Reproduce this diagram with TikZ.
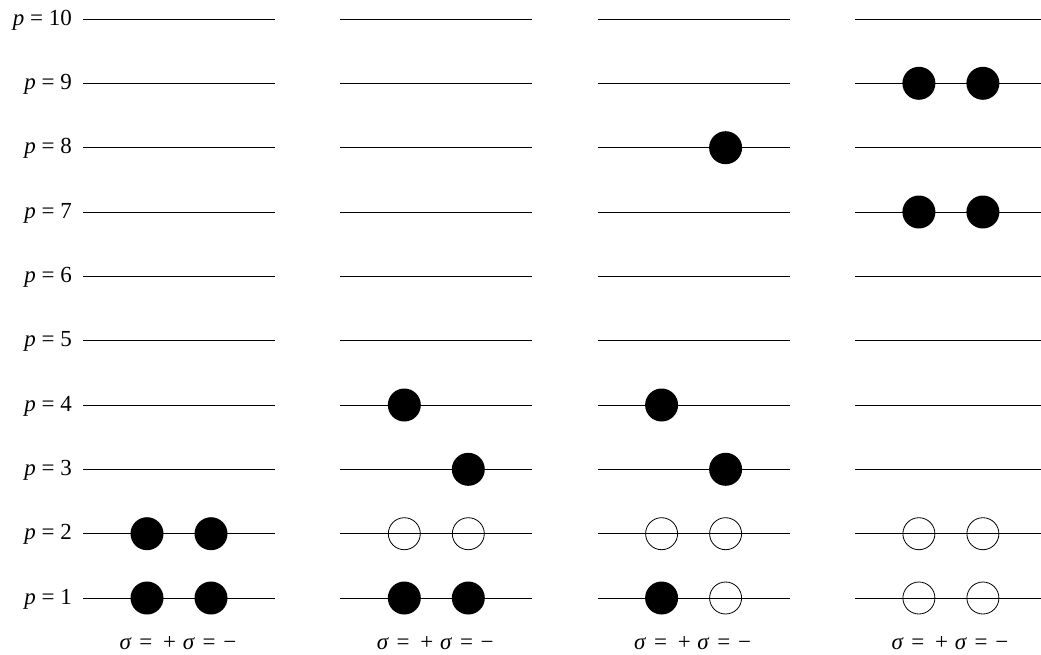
\documentclass[tikz,border=0pt]{standalone}
\usepackage{fontspec}
\setmainfont{Liberation Serif}
\begin{document}
\begin{tikzpicture}[x=1pt,y=-1pt,
  level/.style={line width=0.8pt},
  full/.style={circle,fill=black,minimum size=33pt,inner sep=0pt},
  empty/.style={circle,draw=black,line width=0.8pt,minimum size=32pt,inner sep=0pt},
  plab/.style={anchor=base east,font=\fontsize{23}{26}\selectfont,inner sep=0pt},
  slab/.style={anchor=base,font=\fontsize{23}{26}\selectfont,inner sep=0pt}]
\useasboundingbox (0,0) rectangle (1041,654);
% levels
\foreach \p in {1,...,10}{
  \pgfmathsetmacro{\yy}{598-(\p-1)*64.33}
  \node[plab] (lab\p) at (72,\yy+6) {\textit{p} = \p};
  \foreach \k in {0,1,2,3}{
    \coordinate (a\k-\p) at (83+\k*257.3,\yy);
    \coordinate (b\k-\p) at (275+\k*257.3,\yy);
    \draw[level] (a\k-\p) -- (b\k-\p);
  }
}
% bottom labels
\foreach \k in {0,1,2,3}{
  \node[slab] (sig\k) at (178+\k*257.3,649) {\textit{σ}\kern2pt{} = \kern5pt+ \kern1pt\textit{σ}\kern2pt{} = \kern2pt−};
}
% panel 1
\node[full] (c0-1l) at (147,598) {};
\node[full] (c0-1r) at (211,598) {};
\node[full] (c0-2l) at (147,533.7) {};
\node[full] (c0-2r) at (211,533.7) {};
% panel 2
\node[full] (c1-1l) at (404.3,598) {};
\node[full] (c1-1r) at (468.3,598) {};
\node[empty] (c1-2l) at (404.3,533.7) {};
\node[empty] (c1-2r) at (468.3,533.7) {};
\node[full] (c1-3r) at (468.3,469.3) {};
\node[full] (c1-4l) at (404.3,405) {};
% panel 3
\node[full] (c2-1l) at (661.6,598) {};
\node[empty] (c2-1r) at (725.6,598) {};
\node[empty] (c2-2l) at (661.6,533.7) {};
\node[empty] (c2-2r) at (725.6,533.7) {};
\node[full] (c2-3r) at (725.6,469.3) {};
\node[full] (c2-4l) at (661.6,405) {};
\node[full] (c2-8r) at (725.6,147.7) {};
% panel 4
\node[empty] (c3-1l) at (918.9,598) {};
\node[empty] (c3-1r) at (982.9,598) {};
\node[empty] (c3-2l) at (918.9,533.7) {};
\node[empty] (c3-2r) at (982.9,533.7) {};
\node[full] (c3-7l) at (918.9,212) {};
\node[full] (c3-7r) at (982.9,212) {};
\node[full] (c3-9l) at (918.9,83.3) {};
\node[full] (c3-9r) at (982.9,83.3) {};
\end{tikzpicture}
\end{document}
